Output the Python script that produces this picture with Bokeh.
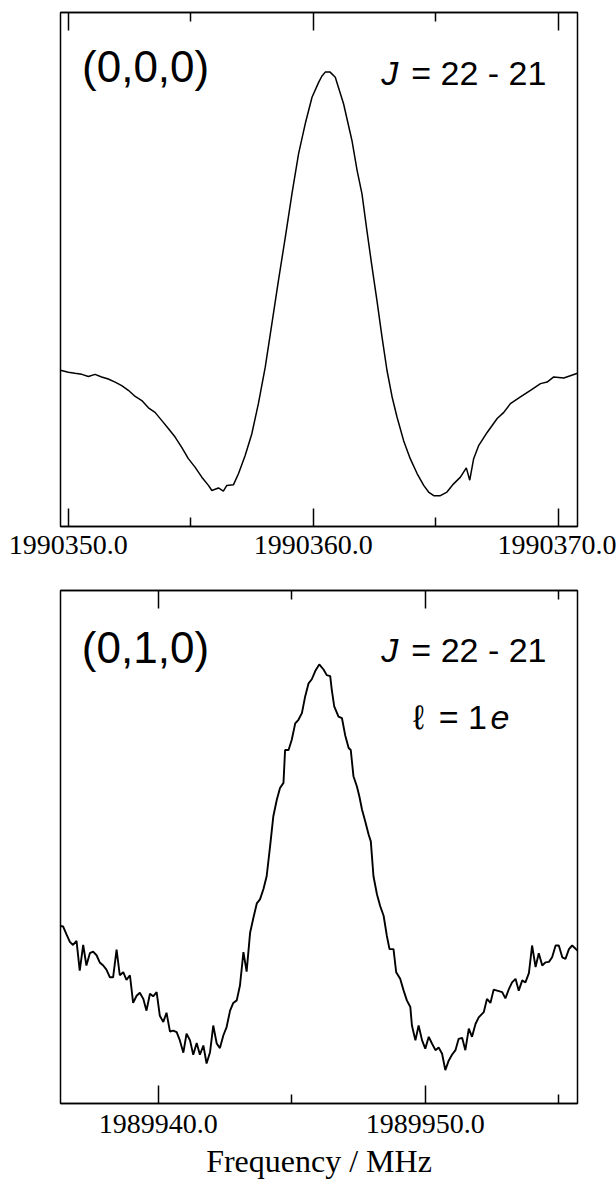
from bokeh.plotting import figure
from bokeh.models import (LinearAxis, FixedTicker, Range1d, Label, PrintfTickFormatter,
                          CustomLabelingPolicy)
from bokeh.layouts import column
from bokeh.embed import file_html
from bokeh.resources import INLINE

# ---------------- data ----------------
# (0,0,0)  J = 22 - 21
top_freq = [
    1990349.68, 1990350.00, 1990350.27, 1990350.55, 1990350.82, 1990351.09, 1990351.36, 1990351.63, 1990351.91, 1990352.18,
    1990352.45, 1990352.73, 1990353.00, 1990353.27, 1990353.54, 1990353.82, 1990354.09, 1990354.36, 1990354.63, 1990354.90,
    1990355.18, 1990355.45, 1990355.72, 1990355.86, 1990356.13, 1990356.33, 1990356.47, 1990356.74, 1990356.95, 1990357.22,
    1990357.49, 1990357.76, 1990358.04, 1990358.31, 1990358.58, 1990358.86, 1990359.13, 1990359.40, 1990359.67, 1990359.95,
    1990360.22, 1990360.35, 1990360.49, 1990360.69, 1990360.90, 1990361.24, 1990361.58, 1990361.79, 1990361.99, 1990362.19,
    1990362.40, 1990362.60, 1990362.81, 1990363.01, 1990363.22, 1990363.42, 1990363.69, 1990363.96, 1990364.24, 1990364.51,
    1990364.71, 1990364.92, 1990365.19, 1990365.46, 1990365.73, 1990366.01, 1990366.25, 1990366.39, 1990366.55, 1990366.76,
    1990367.10, 1990367.51, 1990367.78, 1990368.05, 1990368.46, 1990368.87, 1990369.28, 1990369.55, 1990369.82, 1990370.23,
    1990370.79,
]
top_int = [
    0.304, 0.300, 0.298, 0.296, 0.292, 0.296, 0.291, 0.287, 0.281, 0.274,
    0.265, 0.253, 0.245, 0.231, 0.222, 0.206, 0.190, 0.174, 0.154, 0.132,
    0.115, 0.096, 0.080, 0.070, 0.075, 0.069, 0.080, 0.081, 0.103, 0.138,
    0.180, 0.239, 0.310, 0.394, 0.479, 0.563, 0.647, 0.725, 0.783, 0.835,
    0.864, 0.876, 0.884, 0.884, 0.874, 0.822, 0.751, 0.693, 0.647, 0.576,
    0.505, 0.440, 0.368, 0.304, 0.252, 0.213, 0.167, 0.132, 0.103, 0.080,
    0.067, 0.060, 0.060, 0.067, 0.083, 0.096, 0.114, 0.090, 0.132, 0.158,
    0.183, 0.210, 0.222, 0.239, 0.252, 0.265, 0.278, 0.281, 0.291, 0.289,
    0.298,
]

# (0,1,0)  J = 22 - 21, l = 1e
bot_freq = [
    1989936.34, 1989936.44, 1989936.56, 1989936.69, 1989936.81, 1989936.94, 1989937.06, 1989937.19, 1989937.31, 1989937.44,
    1989937.56, 1989937.69, 1989937.81, 1989937.94, 1989938.06, 1989938.19, 1989938.31, 1989938.44, 1989938.56, 1989938.69,
    1989938.81, 1989938.94, 1989939.06, 1989939.19, 1989939.31, 1989939.44, 1989939.56, 1989939.69, 1989939.81, 1989939.94,
    1989940.06, 1989940.19, 1989940.31, 1989940.44, 1989940.56, 1989940.69, 1989940.81, 1989940.94, 1989941.06, 1989941.19,
    1989941.31, 1989941.44, 1989941.56, 1989941.69, 1989941.81, 1989941.94, 1989942.06, 1989942.19, 1989942.31, 1989942.44,
    1989942.56, 1989942.69, 1989942.81, 1989942.94, 1989943.06, 1989943.19, 1989943.31, 1989943.44, 1989943.56, 1989943.69,
    1989943.81, 1989943.94, 1989944.06, 1989944.19, 1989944.31, 1989944.44, 1989944.56, 1989944.69, 1989944.75, 1989944.88,
    1989945.00, 1989945.13, 1989945.25, 1989945.38, 1989945.50, 1989945.63, 1989945.75, 1989945.88, 1989946.03, 1989946.19,
    1989946.31, 1989946.44, 1989946.50, 1989946.59, 1989946.75, 1989946.88, 1989947.00, 1989947.13, 1989947.21, 1989947.31,
    1989947.44, 1989947.53, 1989947.63, 1989947.75, 1989947.88, 1989947.96, 1989948.06, 1989948.19, 1989948.31, 1989948.44,
    1989948.56, 1989948.66, 1989948.81, 1989948.91, 1989949.06, 1989949.19, 1989949.31, 1989949.44, 1989949.50, 1989949.63,
    1989949.75, 1989949.88, 1989950.00, 1989950.13, 1989950.25, 1989950.38, 1989950.50, 1989950.63, 1989950.75, 1989950.88,
    1989951.00, 1989951.13, 1989951.25, 1989951.38, 1989951.50, 1989951.63, 1989951.75, 1989951.88, 1989952.00, 1989952.19,
    1989952.31, 1989952.44, 1989952.56, 1989952.69, 1989952.88, 1989953.00, 1989953.13, 1989953.25, 1989953.38, 1989953.50,
    1989953.63, 1989953.75, 1989953.88, 1989954.00, 1989954.13, 1989954.25, 1989954.38, 1989954.50, 1989954.63, 1989954.75,
    1989954.88, 1989955.00, 1989955.13, 1989955.25, 1989955.38, 1989955.50, 1989955.70,
]
bot_int = [
    0.346, 0.345, 0.330, 0.315, 0.309, 0.317, 0.259, 0.309, 0.269, 0.293,
    0.296, 0.289, 0.275, 0.269, 0.261, 0.246, 0.246, 0.300, 0.250, 0.256,
    0.241, 0.250, 0.196, 0.210, 0.216, 0.204, 0.181, 0.214, 0.209, 0.217,
    0.171, 0.159, 0.177, 0.140, 0.142, 0.139, 0.123, 0.099, 0.136, 0.123,
    0.095, 0.118, 0.095, 0.113, 0.078, 0.100, 0.152, 0.117, 0.108, 0.133,
    0.149, 0.181, 0.196, 0.201, 0.230, 0.295, 0.257, 0.333, 0.361, 0.390,
    0.398, 0.418, 0.443, 0.502, 0.560, 0.592, 0.615, 0.625, 0.689, 0.689,
    0.709, 0.741, 0.748, 0.761, 0.793, 0.819, 0.827, 0.843, 0.856, 0.846,
    0.835, 0.833, 0.806, 0.774, 0.754, 0.751, 0.718, 0.693, 0.689, 0.638,
    0.618, 0.599, 0.573, 0.550, 0.524, 0.511, 0.443, 0.408, 0.385, 0.366,
    0.327, 0.301, 0.301, 0.256, 0.243, 0.220, 0.201, 0.188, 0.152, 0.123,
    0.152, 0.123, 0.107, 0.130, 0.117, 0.104, 0.109, 0.097, 0.065, 0.084,
    0.095, 0.104, 0.126, 0.128, 0.104, 0.146, 0.130, 0.155, 0.168, 0.178,
    0.204, 0.196, 0.222, 0.220, 0.217, 0.205, 0.223, 0.236, 0.243, 0.220,
    0.240, 0.236, 0.254, 0.308, 0.266, 0.293, 0.269, 0.275, 0.276, 0.285,
    0.308, 0.308, 0.285, 0.282, 0.301, 0.308, 0.298,
]

top_major = [1990350.0, 1990360.0, 1990370.0]
top_minor = [1990355.0, 1990365.0]
bot_major = [1989940.0, 1989950.0]
bot_minor = [1989945.0, 1989955.0]
top_xrange = (1990349.68, 1990370.79)
bot_xrange = (1989936.34, 1989955.70)
x_title = "Frequency / MHz"

SANS = "Liberation Sans"
SERIF = "Liberation Serif"


def make_panel(freq, inten, xr, major, minor, height, top, bottom, standoff, lw):
    p = figure(width=616, height=height, x_range=Range1d(*xr), y_range=Range1d(0, 1),
               x_axis_location=None, y_axis_location=None,
               output_backend="svg", toolbar_location=None,
               min_border_left=60, min_border_right=39,
               min_border_top=top, min_border_bottom=bottom)
    p.outline_line_color = "black"
    p.outline_line_width = 1.5
    p.grid.visible = False
    p.background_fill_color = "white"
    p.border_fill_color = "white"
    axes = {}
    for loc in ("below", "above"):
        ax = LinearAxis(ticker=FixedTicker(ticks=major, minor_ticks=minor),
                        formatter=PrintfTickFormatter(format="%.1f"))
        ax.axis_line_width = 1.5
        ax.major_tick_in = 18
        ax.major_tick_out = 0
        ax.minor_tick_in = 9
        ax.minor_tick_out = 0
        ax.major_tick_line_width = 1.5
        ax.minor_tick_line_width = 1.5
        ax.major_label_text_font = SERIF
        ax.major_label_text_color = "black"
        if loc == "below":
            ax.major_label_text_font_size = "28px"
            ax.major_label_standoff = standoff
        else:
            ax.major_label_text_font_size = "0px"
            ax.major_label_standoff = 0
            ax.major_label_policy = CustomLabelingPolicy(code="return []")
        p.add_layout(ax, loc)
        axes[loc] = ax
    p.line(freq, inten, line_color="black", line_width=lw)
    return p, axes


def lab(p, x, y, text, size, italic=False, align="left"):
    p.add_layout(Label(x=x, y=y, text=text, text_font=SANS, text_font_size=size,
                       text_font_style="italic" if italic else "normal",
                       text_align=align, text_baseline="alphabetic", text_color="black"))


p1, ax1 = make_panel(top_freq, top_int, top_xrange, top_major, top_minor, 568, 12, 42, 9, 1.5)
lab(p1, 1990350.56, 0.895, "(0,0,0)", "44px")
lab(p1, 1990362.78, 0.883, "J", "34px", italic=True)
lab(p1, 1990369.52, 0.883, "= 22 - 21", "34px", align="right")

p2, ax2 = make_panel(bot_freq, bot_int, bot_xrange, bot_major, bot_minor, 613, 22, 76, 11, 1.9)
lab(p2, 1989937.14, 0.889, "(0,1,0)", "44px")
lab(p2, 1989948.35, 0.8835, "J", "34px", italic=True)
lab(p2, 1989954.54, 0.8835, "= 22 - 21", "34px", align="right")
lab(p2, 1989949.55, 0.7534, "\u2113", "34px")
lab(p2, 1989950.50, 0.7534, "= 1", "34px")
lab(p2, 1989952.44, 0.7534, "e", "34px", italic=True)

xb = ax2["below"]
xb.axis_label = x_title
xb.axis_label_text_font = SERIF
xb.axis_label_text_font_size = "32px"
xb.axis_label_text_font_style = "normal"
xb.axis_label_text_color = "black"
xb.axis_label_standoff = 7

layout = column(p1, p2)
open("out.html", "w").write(file_html(layout, INLINE))
